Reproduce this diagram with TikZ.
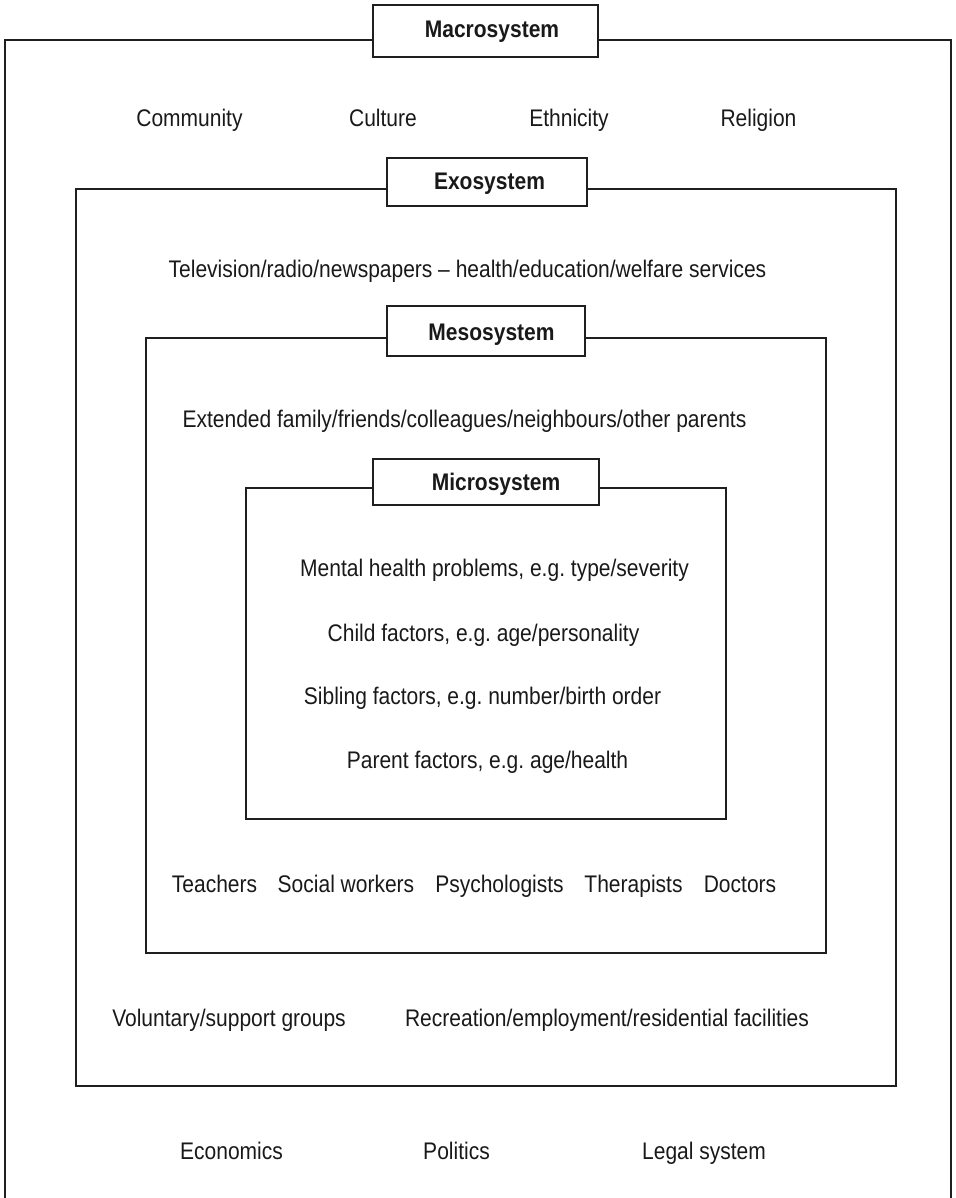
\documentclass[tikz,border=0pt]{standalone}
\usepackage{fontspec}
\setmainfont{Liberation Sans}[FakeStretch=0.875]
\frenchspacing
\begin{document}
\begin{tikzpicture}[x=1pt,y=-1pt,
  frame/.style={draw=black!88, line width=1.6pt},
  titlebox/.style={draw=black!88, line width=1.8pt, fill=white, inner sep=0pt},
  txt/.style={anchor=base, inner sep=0pt, font=\fontsize{24}{28}\selectfont, text=black!90},
  ttl/.style={anchor=base, inner sep=0pt, font=\fontsize{24}{28}\selectfont\bfseries, text=black!90}]
\useasboundingbox (0,0) rectangle (955,1198);
% frames
\coordinate (mbl) at (5,1198);
\coordinate (mtl) at (5,40);
\coordinate (mtr) at (951,40);
\coordinate (mbr) at (951,1198);
\draw[frame] (mbl) -- (mtl) -- (mtr) -- (mbr);
\draw[frame] (76,189) rectangle (896,1086);
\draw[frame] (146,338) rectangle (826,953);
\draw[frame] (246,488) rectangle (726,819);
% title boxes
\node[titlebox, minimum width=225pt, minimum height=52pt] (macrobox) at (485.5,31) {};
\node[titlebox, minimum width=200pt, minimum height=48pt] (exobox) at (487,182) {};
\node[titlebox, minimum width=198pt, minimum height=50pt] (mesobox) at (486,331) {};
\node[titlebox, minimum width=226pt, minimum height=46pt] (microbox) at (486,482) {};
\node[ttl] (macro) at (492,38) {Macrosystem};
\node[ttl] (exo) at (489.5,190) {Exosystem};
\node[ttl] (meso) at (491.5,340) {Mesosystem};
\node[ttl] (micro) at (496,490) {Microsystem};
% macrosystem items
\node[txt] (community) at (189.5,127) {Community};
\node[txt] (culture) at (383,127) {Culture};
\node[txt] (ethnicity) at (569,127) {Ethnicity};
\node[txt] (religion) at (758.5,127) {Religion};
% exosystem
\node[txt] (media) at (467.5,277) {Television/radio/newspapers -- health/education/welfare services};
% mesosystem
\node[txt] (family) at (464.5,427) {Extended family/friends/colleagues/neighbours/other parents};
% microsystem
\node[txt] (mental) at (494.5,576) {Mental health problems, e.g. type/severity};
\node[txt] (child) at (483.5,641) {Child factors, e.g. age/personality};
\node[txt] (sibling) at (482.5,704) {Sibling factors, e.g. number/birth order};
\node[txt] (parent) at (487.5,768) {Parent factors, e.g. age/health};
% professionals
\node[txt] (teachers) at (214.5,892) {Teachers};
\node[txt] (social) at (346,892) {Social workers};
\node[txt] (psych) at (499.5,892) {Psychologists};
\node[txt] (therap) at (633.5,892) {Therapists};
\node[txt] (doctors) at (740,892) {Doctors};
% exo lower
\node[txt] (voluntary) at (229,1026) {Voluntary/support groups};
\node[txt] (recreation) at (607,1026) {Recreation/employment/residential facilities};
% macro lower
\node[txt] (economics) at (231.5,1159) {Economics};
\node[txt] (politics) at (456.5,1159) {Politics};
\node[txt] (legal) at (704,1159) {Legal system};
\end{tikzpicture}
\end{document}
